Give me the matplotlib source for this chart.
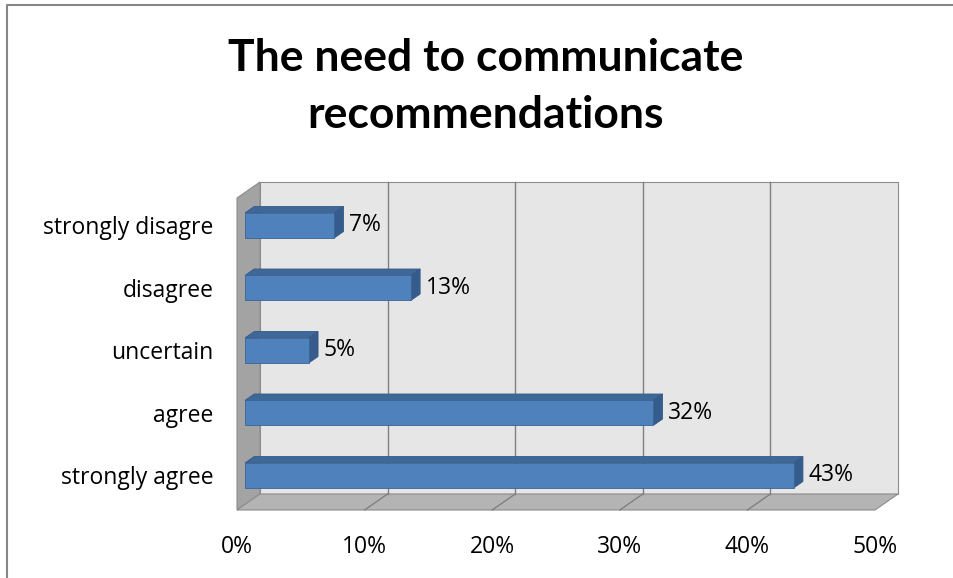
import matplotlib
matplotlib.use('Agg')
import matplotlib.pyplot as plt
from matplotlib.patches import Polygon
from matplotlib.lines import Line2D

# data
categories = ['strongly agree', 'agree', 'uncertain', 'disagree', 'strongly disagre']
values = [43, 32, 5, 13, 7]
xticks = [0, 10, 20, 30, 40, 50]
xticklabels = ['0%', '10%', '20%', '30%', '40%', '50%']
title = 'The need to communicate\nrecommendations'

plt.rcParams['font.family'] = ['Open Sans', 'DejaVu Sans']
fs = 16.5

W, H = 954, 578
fig = plt.figure(figsize=(W / 100, H / 100), dpi=100)
fig.patch.set_facecolor('white')

# front plane of the 3d box in pixels
L, R, B, T = 237, 875, 510, 198
ax = fig.add_axes([L / W, (H - B) / H, (R - L) / W, (B - T) / H])
ymin, ymax = -0.464, 4.528
ax.set_xlim(0, 50)
ax.set_ylim(ymin, ymax)

# depth of the box in data units
DX = 23 / ((R - L) / 50)
DY = 16 / ((B - T) / (ymax - ymin))
d0, d1 = 0.35, 0.75   # bar front / back depth
h = 0.2

wall_edge = '#8c8c8c'
# back wall
ax.add_patch(Polygon([(DX, ymin + DY), (50 + DX, ymin + DY), (50 + DX, ymax + DY), (DX, ymax + DY)],
                     closed=True, fc='#e6e6e6', ec=wall_edge, lw=0.8, clip_on=False, zorder=1))
# left wall
ax.add_patch(Polygon([(0, ymin), (DX, ymin + DY), (DX, ymax + DY), (0, ymax)],
                     closed=True, fc='#a3a3a3', ec=wall_edge, lw=0.8, clip_on=False, zorder=1))
# floor
ax.add_patch(Polygon([(0, ymin), (50, ymin), (50 + DX, ymin + DY), (DX, ymin + DY)],
                     closed=True, fc='#b4b4b4', ec=wall_edge, lw=0.8, clip_on=False, zorder=1))

# gridlines on back wall and floor
for t in xticks[1:-1]:
    ax.plot([t + DX, t + DX], [ymin + DY, ymax + DY], color='#808080', lw=1.0, clip_on=False, zorder=2)
    ax.plot([t + DX, t], [ymin + DY, ymin], color='#808080', lw=1.0, clip_on=False, zorder=2)

# bars
ypos = list(range(len(categories)))
ddx = (d1 - d0) * DX
ddy = (d1 - d0) * DY
x0 = d0 * DX
for i, v in zip(ypos, values):
    yb = i - h + d0 * DY
    yt = i + h + d0 * DY
    x1 = x0 + v
    ax.add_patch(Polygon([(x0, yt), (x1, yt), (x1 + ddx, yt + ddy), (x0 + ddx, yt + ddy)],
                         closed=True, fc='#3f6899', ec='#34598a', lw=0.6, clip_on=False, zorder=4))
    ax.add_patch(Polygon([(x1, yb), (x1, yt), (x1 + ddx, yt + ddy), (x1 + ddx, yb + ddy)],
                         closed=True, fc='#355c8c', ec='#34598a', lw=0.6, clip_on=False, zorder=4))
    ax.text(x1 + ddx + 0.45, i + d0 * DY, f'{v}%', ha='left', va='center', fontsize=fs, color='black', zorder=6)

ax.barh([i + d0 * DY for i in ypos], values, height=2 * h, left=x0,
        color='#4f81bd', edgecolor='#3b6593', linewidth=0.6, zorder=5)

# axis labels
ax.set_yticks([i + d0 * DY for i in ypos])
ax.set_yticklabels(categories, fontsize=fs, color='black')
ax.set_xticks(xticks)
ax.set_xticklabels(xticklabels, fontsize=fs, color='black')
ax.tick_params(axis='both', length=0)
ax.tick_params(axis='y', pad=17)
ax.tick_params(axis='x', pad=18)
for s in ax.spines.values():
    s.set_visible(False)
ax.patch.set_visible(False)

fig.text(486 / W, 1 - 38 / H, title, ha='center', va='top', fontsize=32, fontweight='bold',
         linespacing=1.5, color='black', family=['Lato', 'DejaVu Sans'])

# chart border (left and top visible)
fig.add_artist(Line2D([7 / W, 7 / W, 1], [0, 1 - 5 / H, 1 - 5 / H], color='#868686', lw=1.5,
                      transform=fig.transFigure))

fig.savefig('out.png', dpi=100, facecolor='white')
